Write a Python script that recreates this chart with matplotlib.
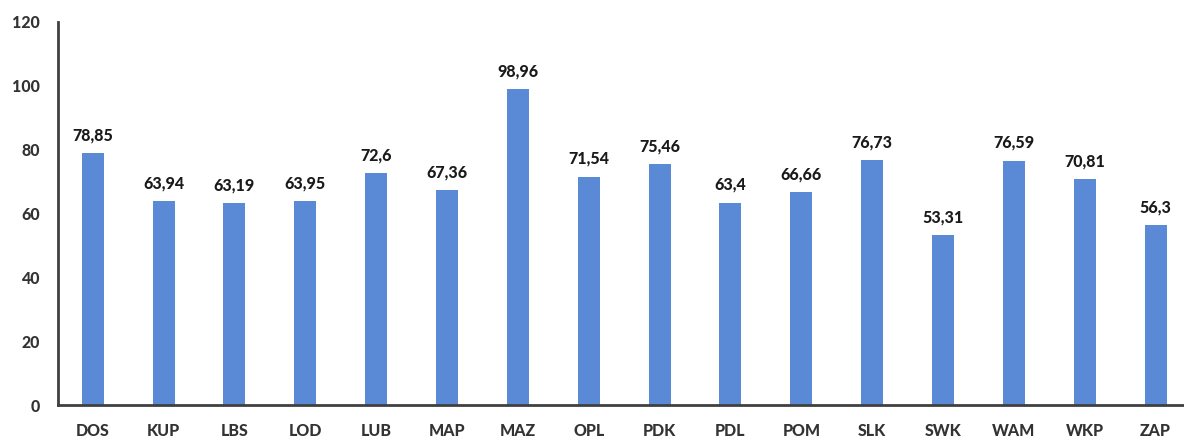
import matplotlib
matplotlib.use("Agg")
import matplotlib.pyplot as plt

categories = ["DOS", "KUP", "LBS", "LOD", "LUB", "MAP", "MAZ", "OPL", "PDK",
              "PDL", "POM", "SLK", "SWK", "WAM", "WKP", "ZAP"]
values = [78.85, 63.94, 63.19, 63.95, 72.6, 67.36, 98.96, 71.54, 75.46,
          63.4, 66.66, 76.73, 53.31, 76.59, 70.81, 56.3]
y_ticks = [0, 20, 40, 60, 80, 100, 120]

plt.rcParams['font.family'] = ['Lato', 'DejaVu Sans']

fig = plt.figure(figsize=(11.84, 4.38), dpi=100)
ax = fig.add_axes([58/1184, 33/438, 1 - 58/1184, (405-22)/438])

x = list(range(len(categories)))
bars = ax.bar(x, values, width=0.31, color="#5A8AD6")

for xi, v in zip(x, values):
    ax.annotate(str(v).replace('.', ','), (xi, v), xytext=(0, 7),
                textcoords="offset points", ha="center", va="bottom",
                fontsize=11.5, fontweight="black", color="#1a1a1a")

ax.set_xlim(-0.49, 15.4)
ax.set_ylim(0, 120)
ax.set_yticks(y_ticks)
ax.set_xticks(x)
ax.set_xticklabels(categories)
ax.tick_params(axis="both", length=0, labelsize=11.5, colors="#333333")
ax.tick_params(axis="y", pad=13)
ax.tick_params(axis="x", pad=13)
for lbl in ax.get_xticklabels() + ax.get_yticklabels():
    lbl.set_fontweight("black")

for s in ["top", "right"]:
    ax.spines[s].set_visible(False)
for s in ["left", "bottom"]:
    ax.spines[s].set_color("#404040")
    ax.spines[s].set_linewidth(2)

fig.savefig("out.png", dpi=100)
